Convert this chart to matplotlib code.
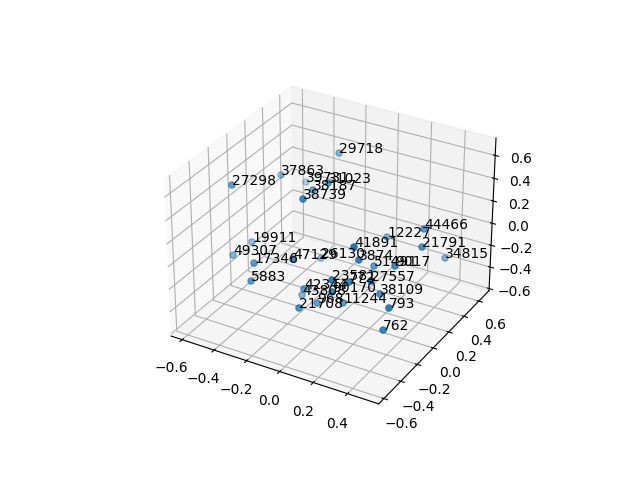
import matplotlib
matplotlib.use('Agg')
import matplotlib.pyplot as plt

labels = ['29718', '37863', '27298', '39731', '31023', '38187', '38739', '19911', '49307', '17346', '47129',
          '26130', '5883', '41891', '3874', '12227', '44466', '21791', '34815', '51491', '9017', '23581',
          '772', '27557', '38109', '42344', '43808', '90170', '968', '11244', '21708', '793', '762']

x = [-0.202, -0.513, -0.5, -0.521, -0.074, -0.175, -0.044, -0.557, -0.541, -0.288, -0.022,
     -0.215, -0.285, 0.372, 0.344, 0.154, 0.446, 0.483, 0.434, 0.249, 0.451, 0.263,
     0.284, 0.428, 0.393, -0.022, -0.193, 0.246, 0.036, 0.172, 0.054, 0.544, 0.522]
y = [0.417, 0.318, -0.25, 0.627, 0.039, 0.058, -0.301, 0.05, -0.19, -0.403, -0.458,
     0.225, -0.444, -0.539, -0.426, 0.296, 0.136, 0.035, 0.449, -0.056, -0.223, -0.568,
     -0.419, -0.455, -0.277, -0.34, -0.045, -0.536, -0.302, -0.266, -0.538, -0.482, -0.501]
z = [0.513, 0.257, 0.52, 0.002, 0.529, 0.417, 0.615, -0.199, -0.153, 0.028, 0.215,
     -0.316, -0.101, 0.539, 0.344, -0.015, 0.283, 0.208, -0.185, 0.002, 0.203, 0.235,
     0.125, 0.223, -0.028, -0.126, -0.462, 0.104, -0.251, -0.214, -0.12, 0.064, -0.122]

fig = plt.figure()
ax = fig.add_subplot(projection='3d')
ax.scatter(x, y, z)

for i, label in enumerate(labels):
    ax.text(x[i], y[i], z[i], label)

ax.set_xlim(-0.67, 0.58)
ax.set_ylim(-0.66, 0.74)
ax.set_zlim(-0.62, 0.75)

fig.savefig('out.png')
